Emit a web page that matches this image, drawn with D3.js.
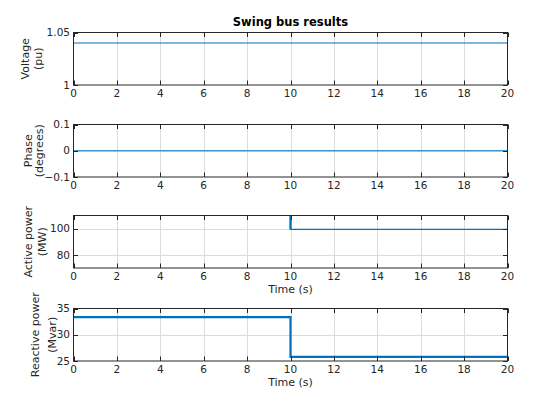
<!DOCTYPE html>
<html><head><meta charset="utf-8">
<script src="https://cdn.jsdelivr.net/npm/d3@7"></script>
<style>body{margin:0;background:#fff}svg{display:block}text{font-family:"DejaVu Sans",sans-serif;fill:#262626}</style>
</head><body>
<svg id="c" width="560" height="420"></svg>
<script>
// ---- data ----
const time = [0, 10, 20];
const voltage = [1.04, 1.04, 1.04];
const phase = [0, 0, 0];
const activePower = [125, 99.5, 99.5];
const reactivePower = [33.35, 25.8, 25.8];
const xTicks = [0, 2, 4, 6, 8, 10, 12, 14, 16, 18, 20];
const voltageTicks = [1, 1.05];
const phaseTicks = [-0.1, 0, 0.1];
const activeTicks = [80, 100];
const reactiveTicks = [25, 30, 35];
const title = "Swing bus results";
const xLabel = "Time (s)";

// ---- layout ----
const svg = d3.select("#c");
const X0 = 73.5, X1 = 507.5, H = 52.5;
const panels = [
  {top: 32.5, values: voltage, domain: [1, 1.05], ticks: voltageTicks, fmt: d => d === 1 ? "1" : "1.05",
   label: ["Voltage", "(pu)"], lx: [25, 38.5], xlab: false, w: 1.2},
  {top: 124.5, values: phase, domain: [-0.1, 0.1], ticks: phaseTicks, fmt: d => d === 0 ? "0" : d3.format(".1f")(d),
   label: ["Phase", "(degrees)"], lx: [28, 39.5], xlab: false, w: 1.2},
  {top: 215.5, values: activePower, domain: [70, 110], ticks: activeTicks, fmt: d => String(d),
   label: ["Active power", "(MW)"], lx: [28, 42], xlab: true, w: 1.3, vw: 2.2},
  {top: 308.5, values: reactivePower, domain: [25, 35], ticks: reactiveTicks, fmt: d => String(d),
   label: ["Reactive power", "(Mvar)"], lx: [35, 52], xlab: true, w: 2.2}
];
const x = d3.scaleLinear().domain([0, 20]).range([X0, X1]);
const col = "#0072BD", ax = "#262626", grid = "#dcdcdc";

svg.append("text").attr("x", (X0 + X1) / 2).attr("y", 26).attr("text-anchor", "middle")
  .attr("font-size", 11.5).attr("font-weight", "bold").style("fill", "#000").text(title);

panels.forEach((p, i) => {
  const top = p.top, bot = p.top + H;
  const y = d3.scaleLinear().domain(p.domain).range([bot, top]);
  const g = svg.append("g");
  const cid = "clip" + i;
  g.append("clipPath").attr("id", cid).append("rect").attr("x", X0).attr("y", top).attr("width", X1 - X0).attr("height", H);
  // grid
  g.selectAll(".gx").data(xTicks.slice(1, -1)).join("line")
    .attr("x1", d => Math.round(x(d)) + 0.5).attr("x2", d => Math.round(x(d)) + 0.5)
    .attr("y1", top).attr("y2", bot).attr("stroke", grid).attr("stroke-width", 1);
  g.selectAll(".gy").data(p.ticks.filter(t => t > p.domain[0] && t < p.domain[1])).join("line")
    .attr("x1", X0).attr("x2", X1).attr("y1", d => Math.round(y(d)) + 0.5).attr("y2", d => Math.round(y(d)) + 0.5)
    .attr("stroke", grid).attr("stroke-width", 1);
  // line
  const pts = time.map((t, k) => [t, p.values[k]]);
  const line = d3.line().x(d => x(d[0])).y(d => y(d[1])).curve(d3.curveStepAfter);
  g.append("path").attr("d", line(pts)).attr("fill", "none").attr("stroke", col)
    .attr("stroke-width", p.w).attr("clip-path", `url(#${cid})`);
  if (p.vw) {
    g.append("line").attr("x1", x(time[1])).attr("x2", x(time[1]))
      .attr("y1", y(p.values[0])).attr("y2", y(p.values[1]))
      .attr("stroke", col).attr("stroke-width", p.vw).attr("clip-path", `url(#${cid})`);
  }
  // box
  g.append("rect").attr("x", X0).attr("y", top).attr("width", X1 - X0).attr("height", H)
    .attr("fill", "none").attr("stroke", ax).attr("stroke-width", 1);
  // x ticks (inward, top and bottom)
  xTicks.forEach(t => {
    const xx = Math.round(x(t)) + 0.5;
    g.append("line").attr("x1", xx).attr("x2", xx).attr("y1", bot).attr("y2", bot - 4.5).attr("stroke", ax);
    g.append("line").attr("x1", xx).attr("x2", xx).attr("y1", top).attr("y2", top + 4.5).attr("stroke", ax);
    g.append("text").attr("x", x(t)).attr("y", bot + 12).attr("text-anchor", "middle").attr("font-size", 10.5).text(t);
  });
  // y ticks
  p.ticks.forEach(t => {
    const yy = Math.round(y(t)) + 0.5;
    g.append("line").attr("x1", X0).attr("x2", X0 + 4.5).attr("y1", yy).attr("y2", yy).attr("stroke", ax);
    g.append("line").attr("x1", X1).attr("x2", X1 - 4.5).attr("y1", yy).attr("y2", yy).attr("stroke", ax);
    g.append("text").attr("x", 70).attr("y", y(t)).attr("dy", "0.35em").attr("text-anchor", "end")
      .attr("font-size", 10.5).text(p.fmt(t));
  });
  // y label
  const cy = (top + bot) / 2;
  p.label.forEach((s, k) => {
    g.append("text").attr("transform", `translate(${p.lx[k]},${cy}) rotate(-90)`).attr("dy", "0.35em")
      .attr("text-anchor", "middle").attr("font-size", 11).text(s);
  });
  if (p.xlab) {
    g.append("text").attr("x", (X0 + X1) / 2).attr("y", bot + 25).attr("text-anchor", "middle")
      .attr("font-size", 11).text(xLabel);
  }
});
</script>
</body></html>
